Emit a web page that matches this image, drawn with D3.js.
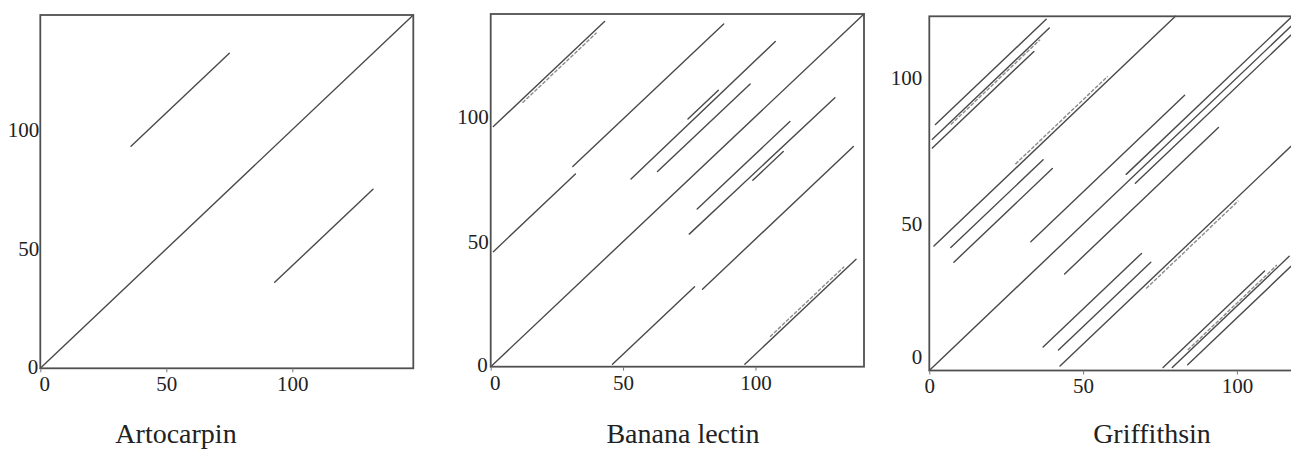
<!DOCTYPE html>
<html>
<head>
<meta charset="utf-8">
<script src="https://cdn.jsdelivr.net/npm/d3@7"></script>
<style>
  html, body { margin: 0; padding: 0; background: #fff; overflow: hidden; }
  svg { display: block; }
</style>
</head>
<body>
<svg id="chart" width="1291" height="450"></svg>
<script>
// ---------------- DATA ----------------
const titles = ["Artocarpin", "Banana lectin", "Griffithsin"];
const seqLengths = [148, 141, 121];
const tickValues = [0, 50, 100];

// Dot-plot diagonal runs: [x1, y1, x2, y2] in residue numbers
const artocarpinSegments = [
  [0, 0, 148, 148],
  [36, 93, 75, 132],
  [93, 36, 132, 75]
];
const artocarpinFaint = [];

const bananaSegments = [
  [0, 0, 141, 141],
  [1, 96, 43, 138], [96, 1, 138, 43],
  [1, 46, 32, 77], [46, 1, 77, 32],
  [31, 80, 88, 137], [80, 31, 137, 88],
  [53, 75, 107.5, 130], [75, 53, 130, 107.5],
  [63, 78, 98, 113], [78, 63, 113, 98],
  [74.5, 99, 86, 110.5], [99, 74.5, 110.5, 86]
];
const bananaFaint = [
  [12, 105.5, 40, 133.5], [105.5, 12, 133.5, 40]
];

const griffithsinSegments = [
  [0, 0, 121, 121],
  [2, 84, 38, 120], [84, 2, 120, 38],
  [1, 79, 39, 117], [79, 1, 117, 39],
  [1, 76, 34, 109], [76, 1, 109, 34],
  [1.5, 42.5, 80, 121], [42.5, 1.5, 121, 80],
  [7, 42, 37, 72], [42, 7, 72, 37],
  [8, 37, 40, 69], [37, 8, 69, 40],
  [64, 67, 118, 121], [67, 64, 121, 118],
  [33, 44, 83, 94], [44, 33, 94, 83]
];
const griffithsinFaint = [
  [7, 84, 36, 113], [84, 7, 113, 36],
  [28, 70.5, 58, 100.5], [70.5, 28, 100.5, 58]
];

// ---------------- LAYOUT ----------------
const panels = [
  { title: titles[0], n: seqLengths[0], segs: artocarpinSegments, faint: artocarpinFaint,
    box: { x0: 40.3, y0: 15, x1: 413.3, y1: 368.3 }, titleX: 176, yPad: 1, zeroLift: 0 },
  { title: titles[1], n: seqLengths[1], segs: bananaSegments, faint: bananaFaint,
    box: { x0: 490.7, y0: 14, x1: 864, y1: 366.7 }, titleX: 683, yPad: 2, zeroLift: 0 },
  { title: titles[2], n: seqLengths[2], segs: griffithsinSegments, faint: griffithsinFaint,
    box: { x0: 929.3, y0: 16.3, x1: 1301.5, y1: 370.5 }, titleX: 1152, yPad: 7, zeroLift: 12 }
];

const FONT = "'Liberation Serif', 'Times New Roman', Times, serif";
const svg = d3.select("#chart");

panels.forEach(p => {
  const x = d3.scaleLinear().domain([0, p.n]).range([p.box.x0, p.box.x1]);
  const y = d3.scaleLinear().domain([0, p.n]).range([p.box.y1, p.box.y0]);
  const g = svg.append("g");

  // faint (double-track) runs
  g.append("g").selectAll("line").data(p.faint).join("line")
    .attr("x1", d => x(d[0])).attr("y1", d => y(d[1]))
    .attr("x2", d => x(d[2])).attr("y2", d => y(d[3]))
    .attr("stroke", "#8c8c8c").attr("stroke-width", 1.4)
    .attr("stroke-dasharray", "4,1.5");

  // main runs
  g.append("g").selectAll("line").data(p.segs).join("line")
    .attr("x1", d => x(d[0])).attr("y1", d => y(d[1]))
    .attr("x2", d => x(d[2])).attr("y2", d => y(d[3]))
    .attr("stroke", "#4a4a4a").attr("stroke-width", 1.4)
    .attr("stroke-linecap", "round");

  // frame
  g.append("rect")
    .attr("x", p.box.x0).attr("y", p.box.y0)
    .attr("width", p.box.x1 - p.box.x0).attr("height", p.box.y1 - p.box.y0)
    .attr("fill", "none").attr("stroke", "#505050").attr("stroke-width", 1.8);

  // x axis
  const xAxis = g.append("g")
    .attr("transform", `translate(0,${p.box.y1})`)
    .call(d3.axisBottom(x).tickValues(tickValues).tickSize(4).tickPadding(4).tickFormat(d3.format("d")));
  xAxis.select(".domain").remove();
  xAxis.selectAll(".tick line").attr("stroke", "#777").attr("stroke-width", 1);
  xAxis.selectAll("text").attr("font-family", FONT).attr("font-size", 21).attr("fill", "#222")
    .attr("dx", d => d === 0 && p.zeroLift === 0 ? 4 : 0);

  // y axis
  const yAxis = g.append("g")
    .attr("transform", `translate(${p.box.x0},0)`)
    .call(d3.axisLeft(y).tickValues(tickValues).tickSize(0).tickPadding(p.yPad).tickFormat(d3.format("d")));
  yAxis.select(".domain").remove();
  yAxis.selectAll("text").attr("font-family", FONT).attr("font-size", 21).attr("fill", "#222")
    .attr("transform", d => d === 0 ? `translate(${p.zeroLift === 0 ? -1 : 0},${-p.zeroLift - 2})` : null);

  // title
  svg.append("text")
    .attr("x", p.titleX).attr("y", 443)
    .attr("text-anchor", "middle")
    .attr("font-family", FONT).attr("font-size", 28).attr("fill", "#222")
    .text(p.title);
});
</script>
</body>
</html>
